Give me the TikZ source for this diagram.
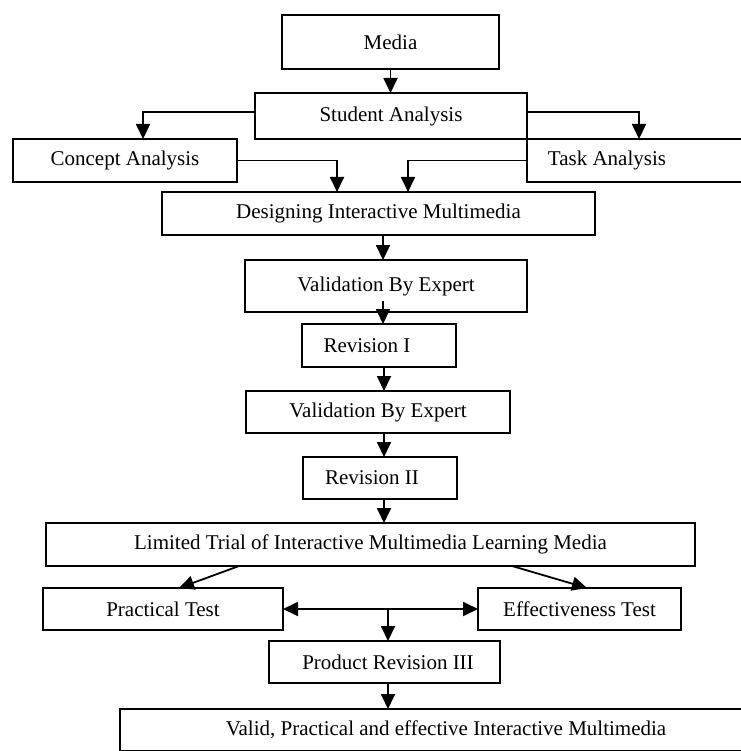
\documentclass[tikz,border=0pt]{standalone}
\usepackage{fontspec}
\setmainfont{Liberation Serif}
\usetikzlibrary{arrows.meta}
\tikzset{
  box/.style={draw, line width=1.8pt, outer sep=0pt, inner sep=0pt, anchor=north west, font=\fontsize{21}{24}\selectfont},
  arr/.style={line width=1.8pt, -{Triangle[width=14pt,length=15pt]}},
  arrtwo/.style={line width=1.8pt, {Triangle[width=14pt,length=15pt]}-{Triangle[width=14pt,length=15pt]}},
}
\begin{document}
\begin{tikzpicture}[x=1pt,y=-1pt]
\useasboundingbox (0,0) rectangle (740,751);
\node[box, minimum width=217pt, minimum height=54pt] (media) at (282,15) {Media};
\node[box, minimum width=272pt, minimum height=46pt] (student) at (255,93) {Student Analysis};
\node[box, minimum width=224pt, minimum height=43pt] (concept) at (13,139) {Concept Analysis};
\node[box, minimum width=233pt, minimum height=43pt] (task) at (527,139) {Task Analysis\hspace*{73pt}};
\node[box, minimum width=433pt, minimum height=43pt] (design) at (162,192) {Designing Interactive Multimedia};
\node[box, minimum width=282pt, minimum height=52pt] (valone) at (245,260) {Validation By Expert};
\node[box, minimum width=154pt, minimum height=43pt] (revone) at (302,324) {Revision I\hspace*{24pt}};
\node[box, minimum width=264pt, minimum height=42pt] (valtwo) at (246,391) {Validation By Expert};
\node[box, minimum width=154pt, minimum height=42pt] (revtwo) at (303,457) {Revision II\hspace*{16pt}};
\node[box, minimum width=649pt, minimum height=43pt] (limited) at (46,523) {Limited Trial of Interactive Multimedia Learning Media};
\node[box, minimum width=240pt, minimum height=42pt] (practical) at (43,588) {Practical Test};
\node[box, minimum width=203pt, minimum height=42pt] (effect) at (478,588) {Effectiveness Test};
\node[box, minimum width=231pt, minimum height=42pt] (product) at (269,641) {\hspace*{7pt}Product Revision III};
\node[box, minimum width=640pt, minimum height=42pt] (final) at (120,709) {\hspace*{12pt}Valid, Practical and effective Interactive Multimedia};

\draw[arr] (media.south) -- (media.south |- student.north);
\draw[arr] ([yshift=4pt]student.west) -| ([xshift=18pt]concept.north);
\draw[arr] ([yshift=4pt]student.east) -| ([xshift=-4.5pt]task.north);
\draw[arr] (concept.east) -| ([xshift=-41.5pt]design.north);
\draw[arr] (task.west) -| ([xshift=29.5pt]design.north);
\coordinate (c1) at ([xshift=4.5pt]design.south);
\draw[arr] (c1) -- (c1 |- valone.north);
\coordinate (c2) at ([xshift=-3pt,yshift=11pt]valone.south);
\draw[arr] (c2) -- (c2 |- revone.north);
\coordinate (c3) at ([xshift=5pt]revone.south);
\draw[arr] (c3) -- (c3 |- valtwo.north);
\coordinate (c4) at ([xshift=4pt]revtwo.south |- valtwo.south);
\draw[arr] (c4) -- (c4 |- revtwo.north);
\coordinate (c5) at ([xshift=4pt]revtwo.south);
\draw[arr] (c5) -- (c5 |- limited.north);
\draw[arr] ([xshift=-131.5pt]limited.south) -- ([xshift=16pt]practical.north);
\draw[arr] ([xshift=141.5pt]limited.south) -- ([xshift=7.5pt]effect.north);
\draw[arrtwo] (practical.east) -- (effect.west);
\coordinate (mid) at ([xshift=3.5pt]product.north |- practical.east);
\draw[arr] (mid) -- (mid |- product.north);
\coordinate (c6) at ([xshift=3.5pt]product.south);
\draw[arr] (c6) -- (c6 |- final.north);
\end{tikzpicture}
\end{document}
